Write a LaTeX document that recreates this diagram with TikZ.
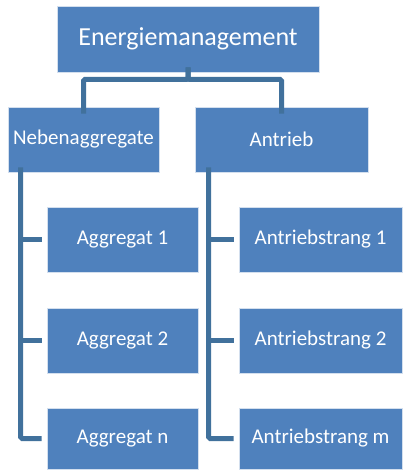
\documentclass[tikz,border=0pt]{standalone}
\usepackage{fontspec}
\setmainfont{Carlito}
\definecolor{boxblue}{HTML}{4F81BD}
\definecolor{linkblue}{HTML}{41719C}
\begin{document}
\begin{tikzpicture}[x=1pt,y=-1pt,
  blk/.style={draw=white!75!boxblue, line width=0.8pt, fill=boxblue, text=white, inner sep=0pt, font=\fontsize{21}{25}\selectfont},
  conn/.style={draw=linkblue, line width=5pt, rounded corners=1.5pt}]
\useasboundingbox[fill=white] (0,0) rectangle (405,470);
\node[blk, minimum width=262pt, minimum height=66pt, font=\fontsize{26}{30}\selectfont] (top) at (188,39) {Energiemanagement};
\node[blk, minimum width=151pt, minimum height=65pt] (neb) at (83.5,139.5) {Nebenaggregate};
\node[blk, minimum width=173pt, minimum height=65pt] (ant) at (281.5,139.5) {Antrieb};
\node[blk, minimum width=151pt, minimum height=65pt] (ag1) at (122.5,239.5) {Aggregat 1};
\node[blk, minimum width=151pt, minimum height=65pt] (ag2) at (122.5,340.5) {Aggregat 2};
\node[blk, minimum width=151pt, minimum height=61pt] (agn) at (122.5,438.5) {Aggregat n};
\node[blk, minimum width=163pt, minimum height=65pt] (at1) at (320.5,239.5) {Antriebstrang 1};
\node[blk, minimum width=163pt, minimum height=65pt] (at2) at (320.5,340.5) {Antriebstrang 2};
\node[blk, minimum width=163pt, minimum height=61pt] (atm) at (320.5,438.5) {Antriebstrang m};
% bracket
\coordinate (tb) at ([yshift=5pt]top.south);
\draw[conn] (tb) -- ++(0,12) -| ([yshift=-7pt]neb.north);
\draw[conn] (tb) -- ++(0,12) -| ([yshift=-7pt]ant.north);
% left tree
\coordinate (lt) at ([xshift=13pt,yshift=5pt]neb.south west);
\draw[conn] (lt) |- ([xshift=-5pt]agn.west);
\draw[conn] (lt |- ag1.west) -- ([xshift=-5pt]ag1.west);
\draw[conn] (lt |- ag2.west) -- ([xshift=-5pt]ag2.west);
% right tree
\coordinate (rt) at ([xshift=14pt,yshift=5pt]ant.south west);
\draw[conn] (rt) |- ([xshift=-5pt]atm.west);
\draw[conn] (rt |- at1.west) -- ([xshift=-5pt]at1.west);
\draw[conn] (rt |- at2.west) -- ([xshift=-5pt]at2.west);
\end{tikzpicture}
\end{document}
